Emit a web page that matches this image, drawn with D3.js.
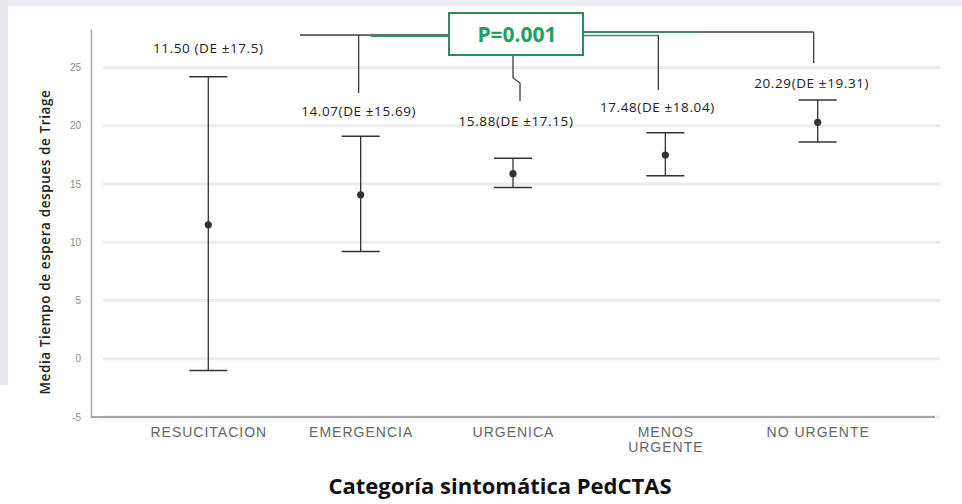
<!DOCTYPE html>
<html>
<head>
<meta charset="utf-8">
<script src="https://cdn.jsdelivr.net/npm/d3@7"></script>
<style>
  body { margin: 0; background: #fff; }
  svg { display: block; }
</style>
</head>
<body>
<div id="chart"></div>
<script>
// mean waiting time after triage, by PedCTAS category
var categories = ["RESUCITACION", "EMERGENCIA", "URGENICA", "MENOS URGENTE", "NO URGENTE"];
var means = [11.50, 14.07, 15.88, 17.48, 20.29];
var ciLow = [-1.0, 9.2, 14.7, 15.7, 18.6];
var ciHigh = [24.2, 19.1, 17.2, 19.4, 22.2];
var sdLabels = ["11.50 (DE \u00b117.5)", "14.07(DE \u00b115.69)", "15.88(DE \u00b117.15)", "17.48(DE \u00b118.04)", "20.29(DE \u00b119.31)"];
var yTicks = [-5, 0, 5, 10, 15, 20, 25];
var pText = "P=0.001";

// label placement (px): offset from bar and gap above the upper cap
var labelDx = [0, -2, 3, -8, -6];
var labelGap = [24, 20, 32, 21, 12];

var width = 962, height = 504;
var margin = { top: 29, right: 27, bottom: 87, left: 91 };

var svg = d3.select("#chart").append("svg")
    .attr("width", width)
    .attr("height", height);

// scanned page edges
svg.append("rect").attr("x", 0).attr("y", 0).attr("width", width).attr("height", 6).attr("fill", "#ececf1");
svg.append("rect").attr("x", 0).attr("y", 0).attr("width", 8).attr("height", 385).attr("fill", "#e8e8ee");

var x = d3.scalePoint()
    .domain(categories)
    .range([margin.left, width - margin.right])
    .padding(0.77);

var y = d3.scaleLinear()
    .domain([-5, 28.3])
    .range([height - margin.bottom, margin.top]);

// gridlines
svg.append("g")
    .selectAll("line")
    .data(yTicks)
    .join("line")
    .attr("x1", margin.left + 12)
    .attr("x2", width - 22)
    .attr("y1", function (d) { return y(d); })
    .attr("y2", function (d) { return y(d); })
    .attr("stroke", "#ececec")
    .attr("stroke-width", 3);

// y axis
var yAxis = svg.append("g")
    .attr("transform", "translate(" + margin.left + ",0)")
    .call(d3.axisLeft(y).tickValues(yTicks).tickSize(0).tickPadding(10).tickFormat(function (d) { return String(d); }));
yAxis.select(".domain").attr("stroke", "#a8a8a8").attr("stroke-width", 1.5);
yAxis.selectAll("text")
    .attr("fill", "#8a8a8a")
    .style("font-family", "Liberation Sans, sans-serif")
    .style("font-size", "10px");

// x axis
var xAxis = svg.append("g")
    .attr("transform", "translate(0," + y(-5) + ")")
    .call(d3.axisBottom(x).tickSize(0).tickPadding(10));
xAxis.select(".domain")
    .attr("d", "M" + margin.left + ",0H" + (width - margin.right))
    .attr("stroke", "#8c8c8c")
    .attr("stroke-width", 1.5);
xAxis.selectAll("text")
    .attr("fill", "#666")
    .style("font-family", "Liberation Sans, sans-serif")
    .style("font-size", "14px")
    .style("letter-spacing", "1px")
    .each(function (d) {
        var words = d.split(" ");
        var t = d3.select(this);
        if (d === "MENOS URGENTE") {
            t.text(null);
            words.forEach(function (w, i) {
                t.append("tspan").attr("x", 0).attr("dy", i ? "1.05em" : "0.71em").text(w);
            });
        }
    });

// axis titles
svg.append("text")
    .attr("transform", "translate(50,242) rotate(-90)")
    .attr("text-anchor", "middle")
    .attr("fill", "#222")
    .style("font-family", "Open Sans, sans-serif")
    .style("font-size", "13.5px")
    .style("font-weight", "600")
    .style("letter-spacing", "0.6px")
    .text("Media Tiempo de espera despues de Triage");

svg.append("text")
    .attr("x", 500)
    .attr("y", 494)
    .attr("text-anchor", "middle")
    .attr("fill", "#111")
    .style("font-family", "Open Sans, sans-serif")
    .style("font-size", "22px")
    .style("font-weight", "700")
    .text("Categor\u00eda sintom\u00e1tica PedCTAS");

// error bars
var capW = 19;
var bars = svg.append("g")
    .selectAll("g")
    .data(categories)
    .join("g")
    .attr("transform", function (d) { return "translate(" + x(d) + ",0)"; });

bars.append("line")
    .attr("y1", function (d, i) { return y(ciLow[i]); })
    .attr("y2", function (d, i) { return y(ciHigh[i]); })
    .attr("stroke", "#333").attr("stroke-width", 1.3);
bars.append("line")
    .attr("x1", -capW).attr("x2", capW)
    .attr("y1", function (d, i) { return y(ciHigh[i]); })
    .attr("y2", function (d, i) { return y(ciHigh[i]); })
    .attr("stroke", "#333").attr("stroke-width", 1.5);
bars.append("line")
    .attr("x1", -capW).attr("x2", capW)
    .attr("y1", function (d, i) { return y(ciLow[i]); })
    .attr("y2", function (d, i) { return y(ciLow[i]); })
    .attr("stroke", "#333").attr("stroke-width", 1.5);
bars.append("circle")
    .attr("cy", function (d, i) { return y(means[i]); })
    .attr("r", 3.6)
    .attr("fill", "#333");

bars.append("text")
    .attr("x", function (d, i) { return labelDx[i]; })
    .attr("y", function (d, i) { return y(ciHigh[i]) - labelGap[i]; })
    .attr("text-anchor", "middle")
    .attr("fill", "#222")
    .style("font-family", "Open Sans, sans-serif")
    .style("font-size", "13.5px")
    .style("letter-spacing", "0.6px")
    .text(function (d, i) { return sdLabels[i]; });

// comparison bracket
var lx = categories.map(function (d, i) { return x(d) + labelDx[i]; });
var dark = "#3d3d3d", green = "#2f9468";
var box = { x0: 449, x1: 583, y0: 13, y1: 55 };

svg.append("line").attr("x1", 300).attr("x2", box.x0).attr("y1", 35).attr("y2", 35)
    .attr("stroke", dark).attr("stroke-width", 1.5);
svg.append("line").attr("x1", lx[1] + 12).attr("x2", box.x0).attr("y1", 36).attr("y2", 36)
    .attr("stroke", green).attr("stroke-width", 2);
svg.append("line").attr("x1", lx[1]).attr("x2", lx[1]).attr("y1", 35).attr("y2", 93)
    .attr("stroke", dark).attr("stroke-width", 1.3);

svg.append("line").attr("x1", box.x1).attr("x2", lx[4] + 2).attr("y1", 32).attr("y2", 32)
    .attr("stroke", dark).attr("stroke-width", 1.5);
svg.append("line").attr("x1", box.x1).attr("x2", 700).attr("y1", 32).attr("y2", 32)
    .attr("stroke", green).attr("stroke-width", 1.5);
svg.append("line").attr("x1", box.x1).attr("x2", lx[3] + 1).attr("y1", 35.5).attr("y2", 35.5)
    .attr("stroke", green).attr("stroke-width", 1.5);
svg.append("line").attr("x1", lx[3] + 1).attr("x2", lx[3] + 1).attr("y1", 35).attr("y2", 90)
    .attr("stroke", dark).attr("stroke-width", 1.3);
svg.append("line").attr("x1", lx[4] + 2).attr("x2", lx[4] + 2).attr("y1", 32).attr("y2", 63)
    .attr("stroke", dark).attr("stroke-width", 1.3);

svg.append("path")
    .attr("d", "M513,55V78L520,83V101")
    .attr("fill", "none")
    .attr("stroke", dark).attr("stroke-width", 1.3);

svg.append("rect")
    .attr("x", box.x0).attr("y", box.y0)
    .attr("width", box.x1 - box.x0).attr("height", box.y1 - box.y0)
    .attr("fill", "#fff")
    .attr("stroke", "#2b8a60").attr("stroke-width", 2);
svg.append("text")
    .attr("x", (box.x0 + box.x1) / 2 + 1)
    .attr("y", 42)
    .attr("text-anchor", "middle")
    .attr("fill", "#1ea160")
    .style("font-family", "Open Sans, sans-serif")
    .style("font-size", "21px")
    .style("font-weight", "700")
    .text(pText);
</script>
</body>
</html>
